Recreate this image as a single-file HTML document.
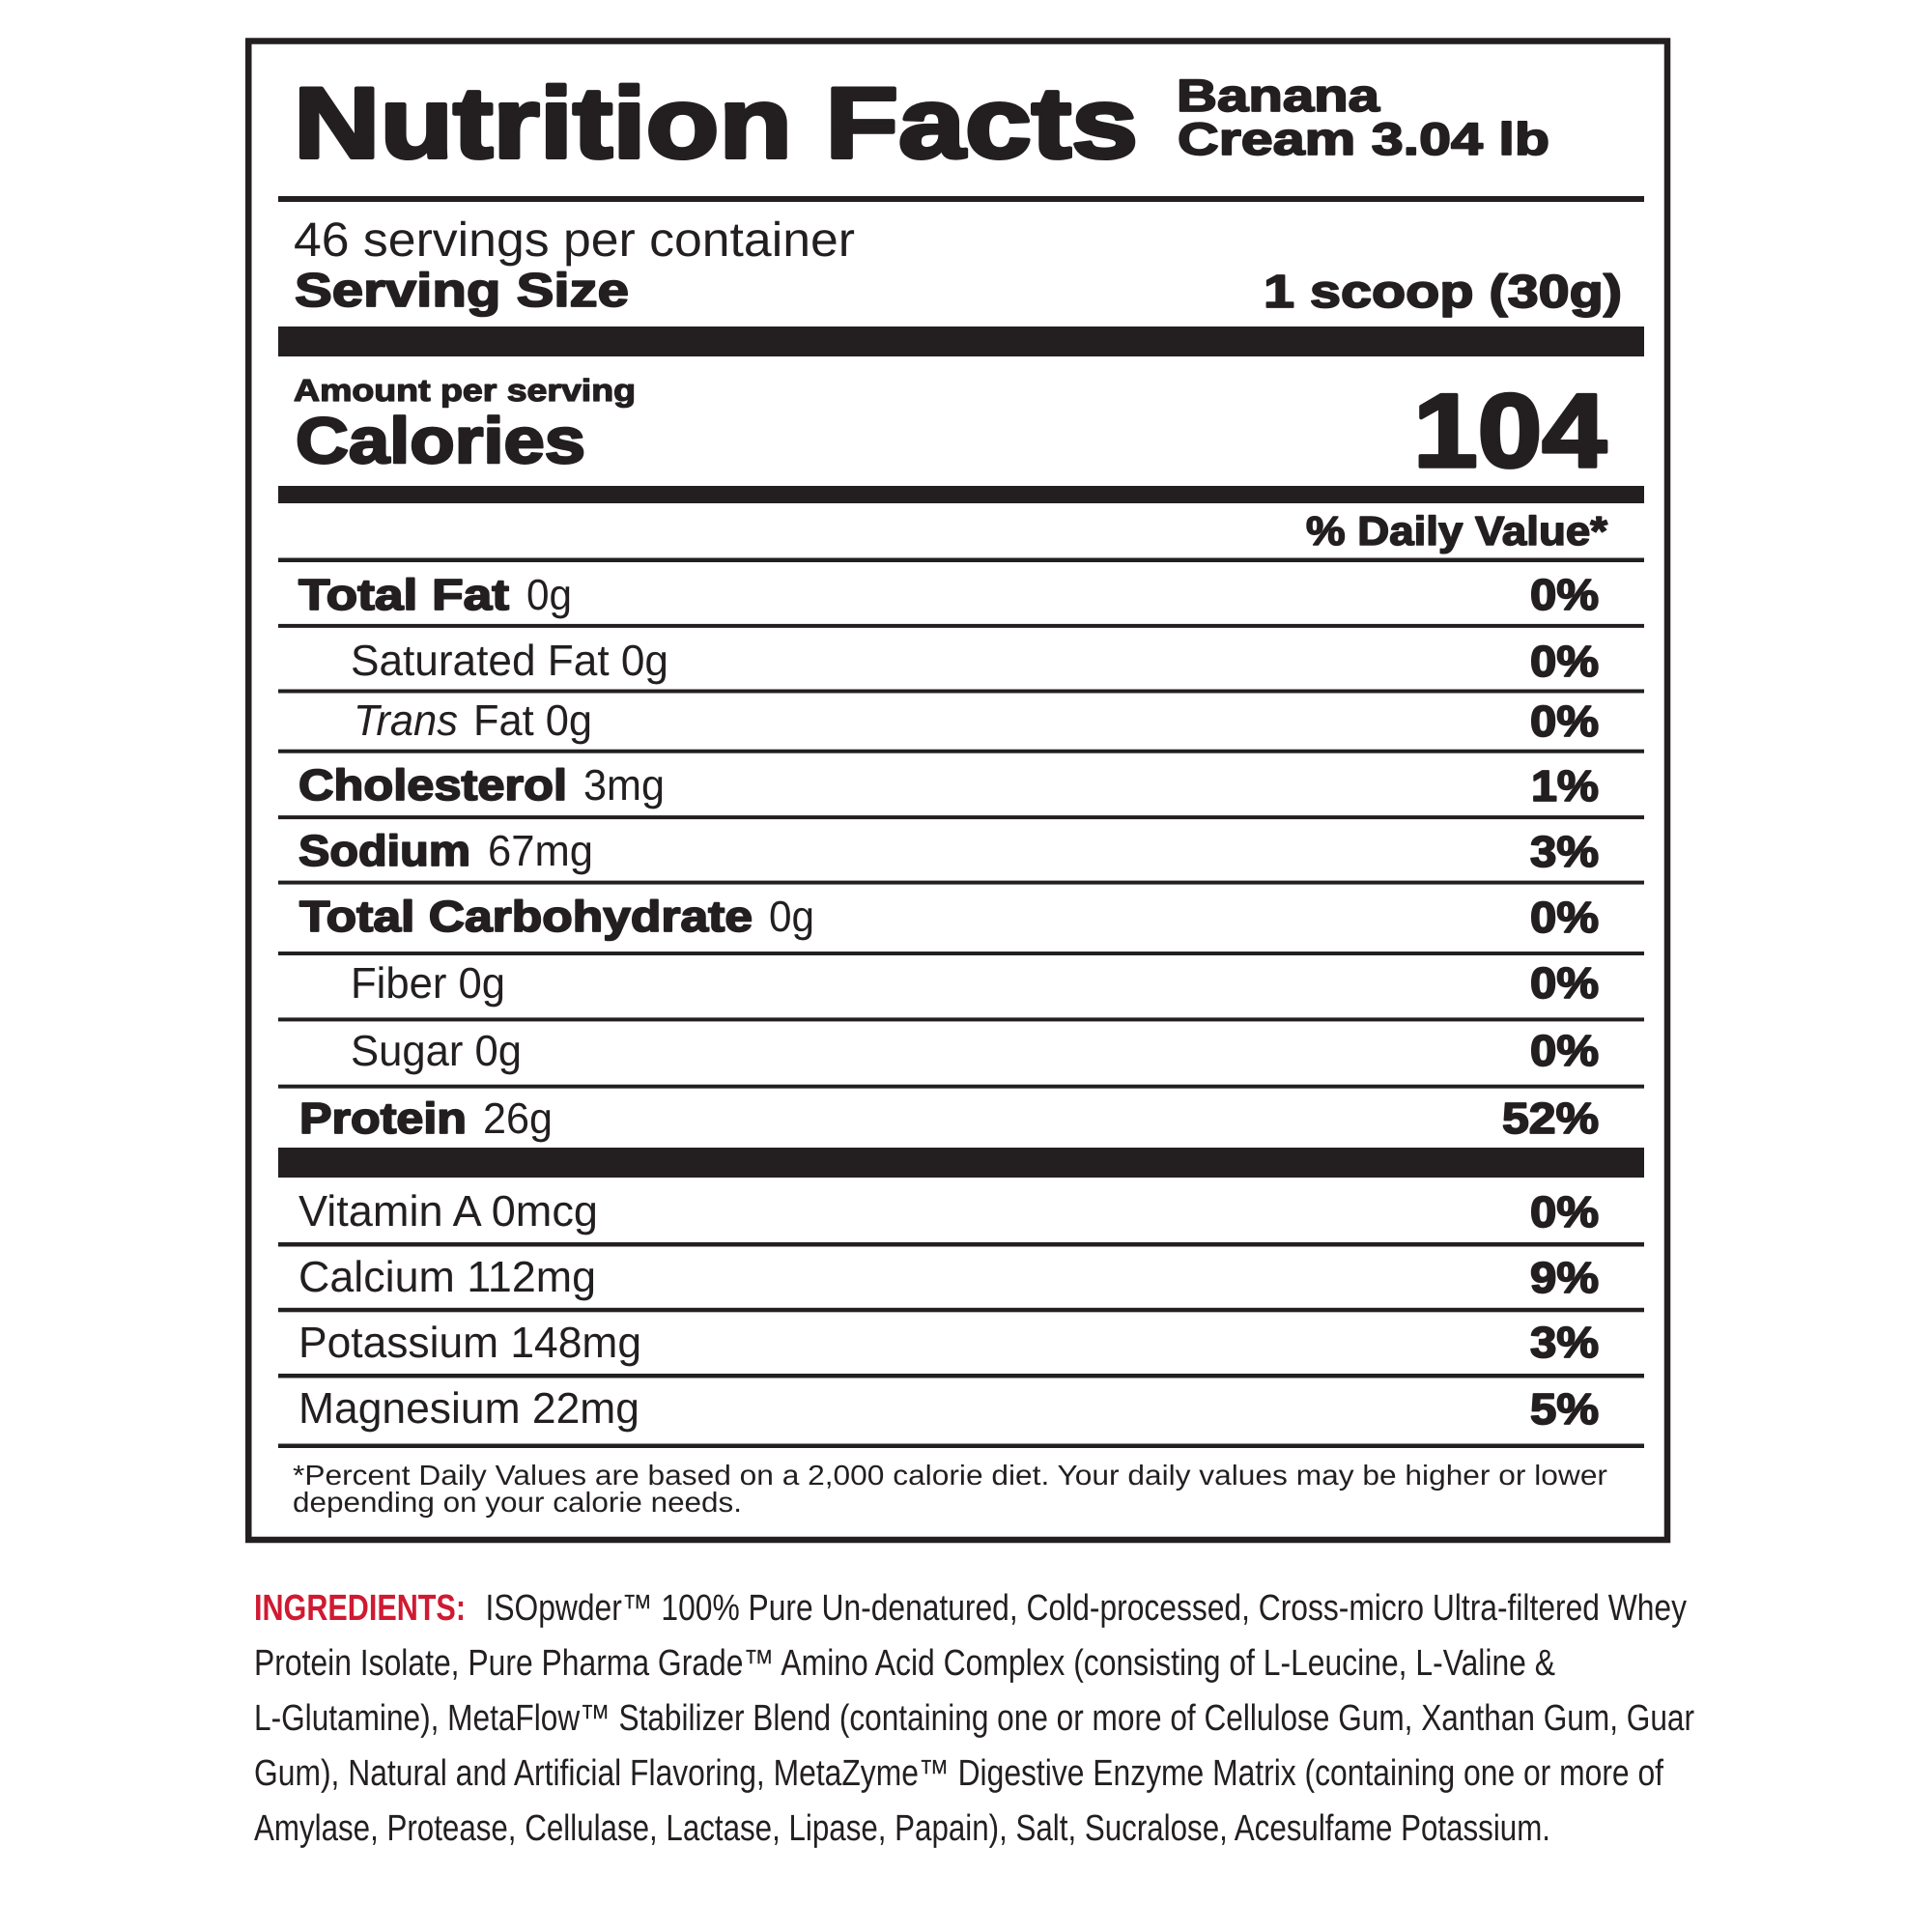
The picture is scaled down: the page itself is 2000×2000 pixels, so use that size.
<!DOCTYPE html>
<html>
<head>
<meta charset="utf-8">
<style>
  html,body{margin:0;padding:0;background:#fff;}
  svg{display:block;}
  text{font-family:"Liberation Sans",Arial,sans-serif;fill:#231f20;}
  .b{font-weight:bold;stroke:#231f20;stroke-linejoin:round;}
  .r{font-weight:normal;}
</style>
</head>
<body>
<svg width="2000" height="2000" viewBox="0 0 2000 2000" xmlns="http://www.w3.org/2000/svg" text-rendering="geometricPrecision">
  <rect x="0" y="0" width="2000" height="2000" fill="#fff"/>
  <!-- outer box -->
  <rect x="257.25" y="42.5" width="1468.75" height="1551.5" fill="none" stroke="#231f20" stroke-width="6.5"/>

  <!-- rules -->
  <g fill="#231f20">
    <rect x="288" y="203" width="1414" height="6"/>
    <rect x="288" y="338" width="1414" height="31"/>
    <rect x="288" y="503" width="1414" height="18"/>
    <rect x="288" y="577.5" width="1414" height="4.5"/>
    <rect x="288" y="645.9" width="1414" height="4"/>
    <rect x="288" y="713.5" width="1414" height="4"/>
    <rect x="288" y="775.7" width="1414" height="4"/>
    <rect x="288" y="844.1" width="1414" height="4"/>
    <rect x="288" y="911.6" width="1414" height="4"/>
    <rect x="288" y="985" width="1414" height="4"/>
    <rect x="288" y="1053.4" width="1414" height="4"/>
    <rect x="288" y="1122.7" width="1414" height="4"/>
    <rect x="288" y="1188" width="1414" height="31"/>
    <rect x="288" y="1286" width="1414" height="4.5"/>
    <rect x="288" y="1353.8" width="1414" height="4.5"/>
    <rect x="288" y="1422" width="1414" height="4.5"/>
    <rect x="288" y="1494.5" width="1414" height="4.5"/>
  </g>

  <!-- header -->
  <text class="b" x="304" y="163" font-size="104" stroke-width="4" textLength="874" lengthAdjust="spacingAndGlyphs">Nutrition Facts</text>
  <text class="b" x="1218" y="115" font-size="47" stroke-width="1.8" textLength="210" lengthAdjust="spacingAndGlyphs">Banana</text>
  <text class="b" x="1219" y="160" font-size="47" stroke-width="1.8" textLength="385" lengthAdjust="spacingAndGlyphs">Cream 3.04 lb</text>

  <text class="r" x="304" y="265" font-size="50" textLength="581" lengthAdjust="spacingAndGlyphs">46 servings per container</text>
  <text class="b" x="305" y="317" font-size="49" stroke-width="1.8" textLength="346" lengthAdjust="spacingAndGlyphs">Serving Size</text>
  <text class="b" x="1308" y="318" font-size="48" stroke-width="1.8" textLength="371" lengthAdjust="spacingAndGlyphs">1 scoop (30g)</text>

  <text class="b" x="304" y="415" font-size="32" stroke-width="1.3" textLength="354" lengthAdjust="spacingAndGlyphs">Amount per serving</text>
  <text class="b" x="306" y="479" font-size="67" stroke-width="2.6" textLength="300" lengthAdjust="spacingAndGlyphs">Calories</text>
  <text class="b" x="1463" y="483" font-size="108" stroke-width="3.6" textLength="200" lengthAdjust="spacingAndGlyphs">104</text>

  <text class="b" x="1352" y="564" font-size="42" stroke-width="1.6" textLength="312" lengthAdjust="spacingAndGlyphs">% Daily Value*</text>

  <!-- nutrient rows -->
  <text class="b" x="309" y="631" font-size="45" stroke-width="1.8" textLength="218" lengthAdjust="spacingAndGlyphs">Total Fat</text>
  <text class="r" x="545" y="631" font-size="45" textLength="47" lengthAdjust="spacingAndGlyphs">0g</text>

  <text class="r" x="363" y="699" font-size="45" textLength="329" lengthAdjust="spacingAndGlyphs">Saturated Fat 0g</text>

  <text class="r" x="366" y="761" font-size="45" font-style="italic" textLength="108" lengthAdjust="spacingAndGlyphs">Trans</text>
  <text class="r" x="490" y="761" font-size="45" textLength="123" lengthAdjust="spacingAndGlyphs">Fat 0g</text>

  <text class="b" x="309" y="828" font-size="45" stroke-width="1.8" textLength="278" lengthAdjust="spacingAndGlyphs">Cholesterol</text>
  <text class="r" x="604" y="828" font-size="45" textLength="84" lengthAdjust="spacingAndGlyphs">3mg</text>

  <text class="b" x="309" y="896" font-size="45" stroke-width="1.8" textLength="178" lengthAdjust="spacingAndGlyphs">Sodium</text>
  <text class="r" x="505" y="896" font-size="45" textLength="109" lengthAdjust="spacingAndGlyphs">67mg</text>

  <text class="b" x="310" y="964" font-size="45" stroke-width="1.8" textLength="469" lengthAdjust="spacingAndGlyphs">Total Carbohydrate</text>
  <text class="r" x="796" y="964" font-size="45" textLength="47" lengthAdjust="spacingAndGlyphs">0g</text>

  <text class="r" x="363" y="1033" font-size="45" textLength="160" lengthAdjust="spacingAndGlyphs">Fiber 0g</text>
  <text class="r" x="363" y="1103" font-size="45" textLength="177" lengthAdjust="spacingAndGlyphs">Sugar 0g</text>

  <text class="b" x="310" y="1173" font-size="45" stroke-width="1.8" textLength="173" lengthAdjust="spacingAndGlyphs">Protein</text>
  <text class="r" x="500" y="1173" font-size="45" textLength="72" lengthAdjust="spacingAndGlyphs">26g</text>

  <text class="r" x="309" y="1269" font-size="45" textLength="310" lengthAdjust="spacingAndGlyphs">Vitamin A 0mcg</text>
  <text class="r" x="309" y="1337" font-size="45" textLength="308" lengthAdjust="spacingAndGlyphs">Calcium 112mg</text>
  <text class="r" x="309" y="1405" font-size="45" textLength="355" lengthAdjust="spacingAndGlyphs">Potassium 148mg</text>
  <text class="r" x="309" y="1473" font-size="45" textLength="353" lengthAdjust="spacingAndGlyphs">Magnesium 22mg</text>

  <!-- percentages -->
  <g>
    <text class="b" x="1584" y="631" font-size="45" stroke-width="1.8" textLength="71" lengthAdjust="spacingAndGlyphs">0%</text>
    <text class="b" x="1584" y="700" font-size="45" stroke-width="1.8" textLength="71" lengthAdjust="spacingAndGlyphs">0%</text>
    <text class="b" x="1584" y="762" font-size="45" stroke-width="1.8" textLength="71" lengthAdjust="spacingAndGlyphs">0%</text>
    <text class="b" x="1585" y="829" font-size="45" stroke-width="1.8" textLength="70" lengthAdjust="spacingAndGlyphs">1%</text>
    <text class="b" x="1584" y="897" font-size="45" stroke-width="1.8" textLength="71" lengthAdjust="spacingAndGlyphs">3%</text>
    <text class="b" x="1584" y="965" font-size="45" stroke-width="1.8" textLength="71" lengthAdjust="spacingAndGlyphs">0%</text>
    <text class="b" x="1584" y="1033" font-size="45" stroke-width="1.8" textLength="71" lengthAdjust="spacingAndGlyphs">0%</text>
    <text class="b" x="1584" y="1103" font-size="45" stroke-width="1.8" textLength="71" lengthAdjust="spacingAndGlyphs">0%</text>
    <text class="b" x="1555" y="1173" font-size="45" stroke-width="1.8" textLength="100" lengthAdjust="spacingAndGlyphs">52%</text>
    <text class="b" x="1584" y="1270" font-size="45" stroke-width="1.8" textLength="71" lengthAdjust="spacingAndGlyphs">0%</text>
    <text class="b" x="1584" y="1338" font-size="45" stroke-width="1.8" textLength="71" lengthAdjust="spacingAndGlyphs">9%</text>
    <text class="b" x="1584" y="1405" font-size="45" stroke-width="1.8" textLength="71" lengthAdjust="spacingAndGlyphs">3%</text>
    <text class="b" x="1584" y="1474" font-size="45" stroke-width="1.8" textLength="71" lengthAdjust="spacingAndGlyphs">5%</text>
  </g>

  <!-- footnote -->
  <text class="r" x="303" y="1537" font-size="29" textLength="1361" lengthAdjust="spacingAndGlyphs">*Percent Daily Values are based on a 2,000 calorie diet. Your daily values may be higher or lower</text>
  <text class="r" x="303" y="1565" font-size="29" textLength="465" lengthAdjust="spacingAndGlyphs">depending on your calorie needs.</text>

  <!-- ingredients -->
  <text x="263" y="1677" font-size="38" font-weight="bold" style="fill:#cf1a32" textLength="219" lengthAdjust="spacingAndGlyphs">INGREDIENTS:</text>
  <text class="r" x="502.5" y="1677" font-size="38" textLength="1243.5" lengthAdjust="spacingAndGlyphs">ISOpwder™ 100% Pure Un-denatured, Cold-processed, Cross-micro Ultra-filtered Whey</text>
  <text class="r" x="263" y="1734" font-size="38" textLength="1347" lengthAdjust="spacingAndGlyphs">Protein Isolate, Pure Pharma Grade™ Amino Acid Complex (consisting of L-Leucine, L-Valine &amp;</text>
  <text class="r" x="263" y="1791" font-size="38" textLength="1491" lengthAdjust="spacingAndGlyphs">L-Glutamine), MetaFlow™ Stabilizer Blend (containing one or more of Cellulose Gum, Xanthan Gum, Guar</text>
  <text class="r" x="263" y="1848" font-size="38" textLength="1459" lengthAdjust="spacingAndGlyphs">Gum), Natural and Artificial Flavoring, MetaZyme™ Digestive Enzyme Matrix (containing one or more of</text>
  <text class="r" x="263" y="1905" font-size="38" textLength="1342" lengthAdjust="spacingAndGlyphs">Amylase, Protease, Cellulase, Lactase, Lipase, Papain), Salt, Sucralose, Acesulfame Potassium.</text>
</svg>
</body>
</html>
